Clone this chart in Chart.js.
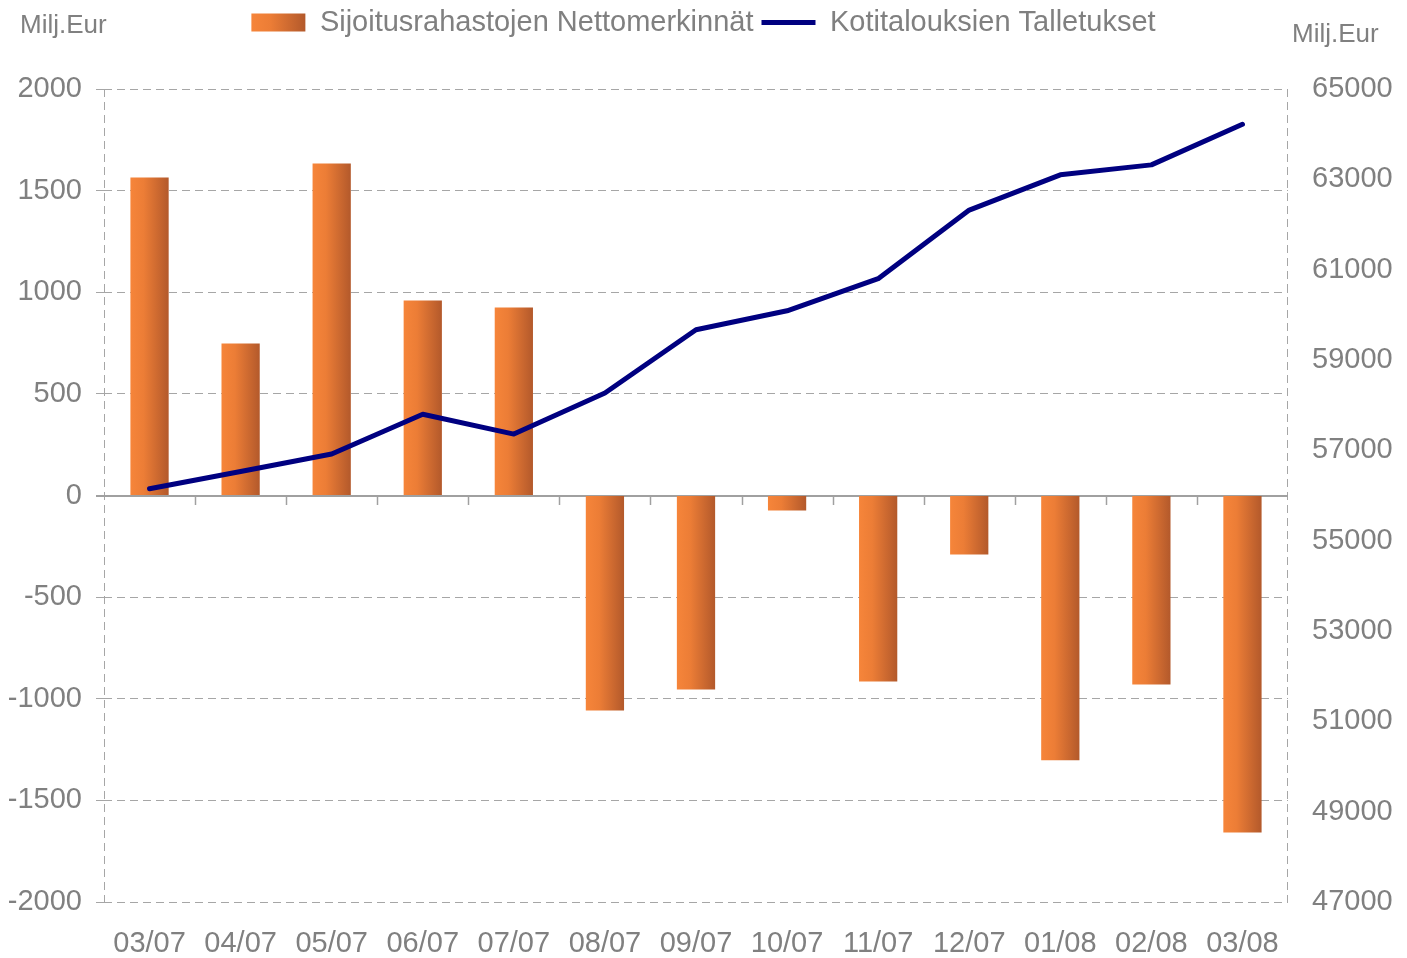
<!DOCTYPE html>
<html>
<head>
<meta charset="utf-8">
<script src="https://cdn.jsdelivr.net/npm/chart.js@4/dist/chart.umd.min.js"></script>
<style>
  html, body { margin: 0; padding: 0; background: #ffffff; }
  #wrap { width: 1407px; height: 958px; position: relative; }
</style>
</head>
<body>
<div id="wrap"><canvas id="c"></canvas></div>
<script>
// ---- data ----
const categories = ['03/07','04/07','05/07','06/07','07/07','08/07','09/07','10/07','11/07','12/07','01/08','02/08','03/08'];
const nettomerkinnat = [1565, 748, 1633, 959, 925, -1058, -954, -74, -915, -290, -1303, -930, -1658];
const talletukset = [56150, 56530, 56920, 57800, 57360, 58270, 59670, 60090, 60800, 62320, 63100, 63320, 64220];
const seriesNames = ['Sijoitusrahastojen Nettomerkinnät', 'Kotitalouksien Talletukset'];
const unitLabel = 'Milj.Eur';

// ---- styles ----
const FONT = "'Liberation Sans', Arial, sans-serif";
const GRAY = '#808080';
const GRID = '#a6a6a6';
const DASH = [8, 5];
const BAR_PCT = 0.42;
const LEGEND_BOX_W = 54;
const LINE_W = 5;
const TICK_SIZE = 29;

function barGradient(ctx, x0, x1) {
  const g = ctx.createLinearGradient(x0, 0, x1, 0);
  g.addColorStop(0, '#f6853a');
  g.addColorStop(0.35, '#ec7d36');
  g.addColorStop(1, '#b3592b');
  return g;
}

const decorPlugin = {
  id: 'decor',
  beforeDraw(chart) {
    const lg = chart.legend;
    if (lg && lg.legendHitBoxes && lg.legendItems) {
      lg.legendItems.forEach((it, i) => {
        if (it.datasetIndex === 0 && lg.legendHitBoxes[i]) {
          const hb = lg.legendHitBoxes[i];
          it.fillStyle = barGradient(chart.ctx, hb.left, hb.left + LEGEND_BOX_W);
        }
      });
    }
  },
  beforeDatasetsDraw(chart) {
    const {ctx, chartArea: a, scales} = chart;
    const yl = scales.y;
    ctx.save();
    // dashed frame at left and right
    ctx.strokeStyle = GRID;
    ctx.lineWidth = 1;
    ctx.setLineDash(DASH);
    [a.left + 0.5, a.right - 0.5].forEach(x => {
      ctx.beginPath();
      ctx.moveTo(x, a.top);
      ctx.lineTo(x, a.bottom);
      ctx.stroke();
    });
    // solid zero line with category tick marks
    ctx.setLineDash([]);
    const y0 = Math.round(yl.getPixelForValue(0));
    ctx.strokeStyle = '#a0a0a0';
    ctx.lineWidth = 2;
    ctx.beginPath();
    ctx.moveTo(a.left - 8, y0);
    ctx.lineTo(a.right, y0);
    ctx.stroke();
    ctx.lineWidth = 1.5;
    const n = categories.length;
    const step = (a.right - a.left) / n;
    for (let i = 1; i < n; i++) {
      const x = Math.round(a.left + i * step) + 0.5;
      ctx.beginPath();
      ctx.moveTo(x, y0);
      ctx.lineTo(x, y0 + 9);
      ctx.stroke();
    }
    ctx.restore();
  },
  afterDraw(chart) {
    const {ctx} = chart;
    ctx.save();
    ctx.fillStyle = GRAY;
    ctx.font = '26px ' + FONT;
    ctx.textBaseline = 'middle';
    ctx.textAlign = 'left';
    ctx.fillText(unitLabel, 20, 26);
    ctx.fillText(unitLabel, 1292, 35);
    ctx.restore();
  }
};

const plainNumber = (v) => String(v);

const chart = new Chart(document.getElementById('c'), {
  data: {
    labels: categories,
    datasets: [
      {
        type: 'bar',
        label: seriesNames[0],
        data: nettomerkinnat,
        yAxisID: 'y',
        order: 2,
        borderWidth: 0,
        barPercentage: BAR_PCT,
        categoryPercentage: 1.0,
        backgroundColor: (c) => {
          const ch = c.chart;
          if (c.type !== 'data' || !ch.chartArea || !ch.scales.x) return '#e07a35';
          const xs = ch.scales.x;
          const cx = xs.getPixelForValue(c.dataIndex);
          const w = xs.width / categories.length * BAR_PCT;
          return barGradient(ch.ctx, cx - w / 2, cx + w / 2);
        }
      },
      {
        type: 'line',
        label: seriesNames[1],
        data: talletukset,
        yAxisID: 'y2',
        order: 1,
        borderColor: '#000080',
        backgroundColor: '#000080',
        borderWidth: LINE_W,
        borderCapStyle: 'round',
        borderJoinStyle: 'round',
        pointRadius: 0,
        pointHoverRadius: 0,
        tension: 0,
        fill: false
      }
    ]
  },
  options: {
    responsive: true,
    maintainAspectRatio: false,
    animation: false,
    layout: { padding: { top: 0, left: 0, right: 0, bottom: 0 } },
    plugins: {
      tooltip: { enabled: false },
      title: {
        display: true,
        text: '',
        weight: 500,
        font: { size: 10, lineHeight: 1 },
        padding: { top: 0, bottom: 32 }
      },
      legend: {
        display: true,
        position: 'top',
        labels: {
          color: GRAY,
          font: { family: FONT, size: 29 },
          usePointStyle: true,
          pointStyleWidth: LEGEND_BOX_W,
          boxHeight: 18,
          padding: 8,
          sort: (a, b) => a.datasetIndex - b.datasetIndex,
          generateLabels: (ch) => {
            const items = Chart.defaults.plugins.legend.labels.generateLabels(ch);
            items.forEach(it => {
              if (it.datasetIndex === 0) { it.pointStyle = 'rect'; it.lineWidth = 0; }
              else { it.pointStyle = 'line'; it.lineWidth = LINE_W; it.strokeStyle = '#000080'; }
            });
            return items;
          }
        }
      }
    },
    scales: {
      x: {
        type: 'category',
        offset: true,
        grid: { display: false, drawTicks: false },
        border: { display: false },
        ticks: { color: GRAY, font: { family: FONT, size: TICK_SIZE }, padding: 25, maxRotation: 0, autoSkip: false },
        afterFit: (s) => { s.height = 56; }
      },
      y: {
        position: 'left',
        min: -2000,
        max: 2000,
        grid: { color: GRID, lineWidth: 1, drawTicks: true, tickLength: 8, tickBorderDash: DASH },
        border: { display: false, dash: DASH },
        ticks: { stepSize: 500, color: GRAY, font: { family: FONT, size: TICK_SIZE }, padding: 14, callback: plainNumber },
        afterFit: (s) => { s.width = 104; }
      },
      y2: {
        position: 'right',
        min: 47000,
        max: 65000,
        grid: { display: false, drawOnChartArea: false, drawTicks: false },
        border: { display: false },
        ticks: { stepSize: 2000, color: GRAY, font: { family: FONT, size: TICK_SIZE }, padding: 24, callback: plainNumber },
        afterFit: (s) => { s.width = 119; }
      }
    }
  },
  plugins: [decorPlugin]
});
</script>
</body>
</html>
